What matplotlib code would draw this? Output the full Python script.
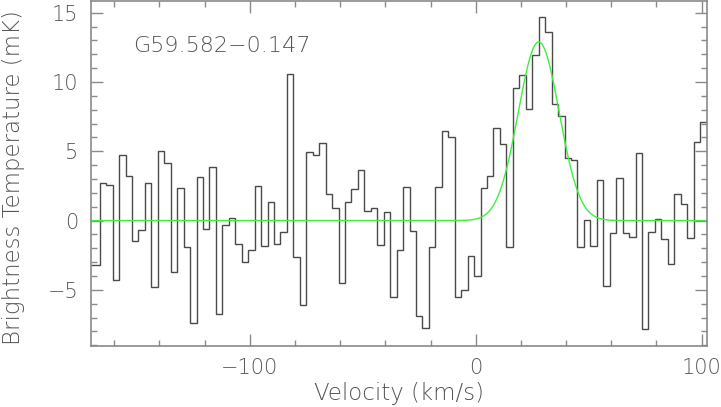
import numpy as np
import matplotlib
matplotlib.use("Agg")
import matplotlib.pyplot as plt
from matplotlib import font_manager
from matplotlib.ticker import MultipleLocator

# spectrum: channel grid (km/s) and brightness temperatures (mK)
v_first_edge = -169.26
channel_width = 2.857
temps = [-3.19, 2.69, 2.55, -4.27, 4.70, 3.19, -1.46, -0.67, 2.69, -4.77,
         5.04, 4.13, -3.69, 2.37, -1.91, -7.38, 3.12, -0.62, 3.84, -6.73,
         -0.33, 0.17, -1.68, -3.02, -2.09, 2.47, -1.82, 1.37, -1.68, -0.84,
         10.60, -2.66, -6.06, 4.94, 4.73, 5.57, 1.90, 0.94, -4.48, 1.32,
         2.26, 3.65, 0.70, 0.89, -1.75, 0.60, -5.54, -2.11, 2.45, -0.72,
         -6.86, -7.74, -1.92, 2.45, 6.47, 6.04, -5.54, -4.99, -2.59, -4.03,
         2.33, 3.22, 6.65, 5.50, -1.92, 9.57, 10.48, 8.09, 11.92, 14.73,
         13.60, 8.40, 7.58, 4.53, 4.37, -1.92, 0.02, -1.85, 2.91, -4.72,
         -0.91, 3.05, -0.91, -1.17, 4.89, -7.86, -0.84, 0.10, -1.34, -3.14,
         1.90, 1.18, -1.27, 5.64, 7.15]

# gaussian fit: peak (mK), centre (km/s), FWHM (km/s)
fit_peak = 12.9
fit_center = 27.9
fit_fwhm = 21.3

source_name = "G59.582\u22120.147"
x_range = (-170.4, 102.5)
y_range = (-9.05, 15.85)

text_col = "#555555"
frame_col = "#8a8a8a"

# thin strokes like the original plot font, if a light face is installed
fam, wt = "DejaVu Sans", "normal"
found = False
for cand in ["DejaVu Sans", "Open Sans", "Roboto", "Noto Sans", "Lato"]:
    for f in font_manager.fontManager.ttflist:
        w = f.weight
        if isinstance(w, str):
            w = font_manager.weight_dict.get(w, 400)
        if f.name == cand and f.style == "normal" and w <= 300 and w >= 200:
            fam, wt = cand, w
            found = True
            break
    if found:
        break

plt.rcParams["font.family"] = [fam, "DejaVu Sans"]
plt.rcParams["font.weight"] = wt
plt.rcParams["axes.labelweight"] = wt

fig = plt.figure(figsize=(7.21, 4.07), dpi=100)
ax = fig.add_axes([0.1258, 0.150, 0.8552, 0.8475])

edges = v_first_edge + channel_width * np.arange(len(temps) + 1)
edges[0] = x_range[0]
ax.stairs(temps, edges, baseline=None, color="#4a4a4a", lw=1.0)

vv = np.linspace(x_range[0], x_range[1], 800)
sig = fit_fwhm / (2 * np.sqrt(2 * np.log(2)))
ax.plot(vv, fit_peak * np.exp(-0.5 * ((vv - fit_center) / sig) ** 2),
        color="#3cf03c", lw=1.0)

ax.set_xlim(*x_range)
ax.set_ylim(*y_range)

ax.xaxis.set_major_locator(MultipleLocator(100))
ax.xaxis.set_minor_locator(MultipleLocator(20))
ax.yaxis.set_major_locator(MultipleLocator(5))
ax.yaxis.set_minor_locator(MultipleLocator(1))
ax.tick_params(which="both", direction="in", top=True, right=True,
               color=frame_col, labelcolor=text_col, labelsize=15)
ax.tick_params(which="major", length=8.5, width=1.0, pad=9)
ax.tick_params(which="minor", length=4.3, width=1.0)
for s in ax.spines.values():
    s.set_color(frame_col)
    s.set_linewidth(1.2)

ax.set_xlabel("Velocity (km/s)", fontsize=16.5, color=text_col, fontweight=wt)
ax.set_ylabel("Brightness Temperature (mK)", fontsize=16.5, color=text_col,
              fontweight=wt)
ax.xaxis.set_label_coords(0.5, -0.105)
ax.yaxis.set_label_coords(-0.126, 0.487)
ax.yaxis.label.set_verticalalignment("center")

ax.text(-151.6, 12.57, source_name, fontsize=16, color=text_col,
        ha="left", va="center", fontweight=wt)

fig.savefig("out.png", dpi=100)
